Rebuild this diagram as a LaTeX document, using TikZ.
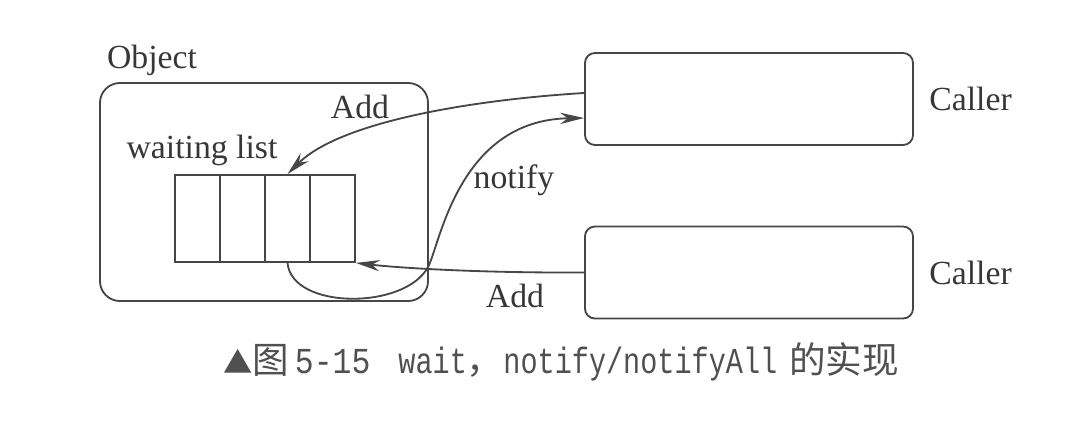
\documentclass[tikz,border=0pt]{standalone}
\usepackage{fontspec}
\setmainfont{Liberation Serif}
\newfontfamily\cjk{Noto Sans CJK SC}
\newfontfamily\capmonofont{Liberation Mono}
\usepackage{graphicx}
\usepackage{tikz}
\usetikzlibrary{arrows.meta, positioning}
\definecolor{linegray}{RGB}{70,70,70}
\definecolor{textgray}{RGB}{55,55,55}
\definecolor{capgray}{RGB}{80,80,80}
\newcommand{\capmono}[2][0.78]{\scalebox{#1}[1]{\capmonofont #2}}
\tikzset{
    objbox/.style = {rectangle, rounded corners=0.5cm, draw=linegray, line width=1.3pt, minimum width=8.2cm, minimum height=5.45cm},
    callerbox/.style = {rectangle, rounded corners=0.25cm, draw=linegray, line width=1.3pt, minimum width=8.2cm, minimum height=2.3cm},
    cell/.style = {rectangle, draw=linegray, line width=1.3pt, minimum width=1.125cm, minimum height=2.175cm, inner sep=0pt},
    lbl/.style = {text=textgray, font=\fontsize{24}{28}\selectfont, inner sep=0pt},
    arrow/.style = {draw=linegray, line width=1.3pt, -{Stealth[length=17pt, width=8pt]}}
}
\begin{document}
\begin{tikzpicture}[x=0.025cm, y=-0.025cm]
\useasboundingbox (0,0) rectangle (1076,428);

\node[objbox] (obj) at (264,192) {};
\node[lbl] (objlbl) at (152,60) {Object};
\node[lbl] (wlbl) at (202,150) {waiting list};
\foreach \i in {1,...,4}
    \node[cell] (cell\i) at ({152.5+45*\i},218.5) {};

\node[callerbox] (caller1) at (749,99) {};
\node[callerbox] (caller2) at (749,272.5) {};
\node[lbl, right=0.375cm of caller1] (callerlbl1) {Caller};
\node[lbl, right=0.375cm of caller2] (callerlbl2) {Caller};

\draw[arrow] ([yshift=0.15cm]caller1.west) .. controls (470,100) and (340,122) .. (cell3.north);
\node[lbl] (addtop) at (360,107) {Add};

\draw[arrow] (caller2.west) .. controls (480,273) and (400,268) .. (cell4.south east);
\node[lbl] (addbot) at (515,296) {Add};

\coordinate (notifybend) at (428,267);
\draw[arrow] (cell3.south) .. controls (292,310) and (405,310) .. (notifybend)
    .. controls (440,245) and (458,120) .. ([yshift=-0.475cm]caller1.west);
\node[lbl] (notifylbl) at (514,180) {notify};

\node[text=capgray, font=\fontsize{26}{30}\selectfont, inner sep=0pt] (cap) at (561,362)
    {{\cjk\scalebox{0.8}{▲}图}\,\capmono[0.86]{5-15}\hspace{0.7cm}\capmono{wait}{\cjk ，}\capmono{notify/notifyAll}\hspace{0.3cm}{\cjk 的实现}};
\end{tikzpicture}
\end{document}
